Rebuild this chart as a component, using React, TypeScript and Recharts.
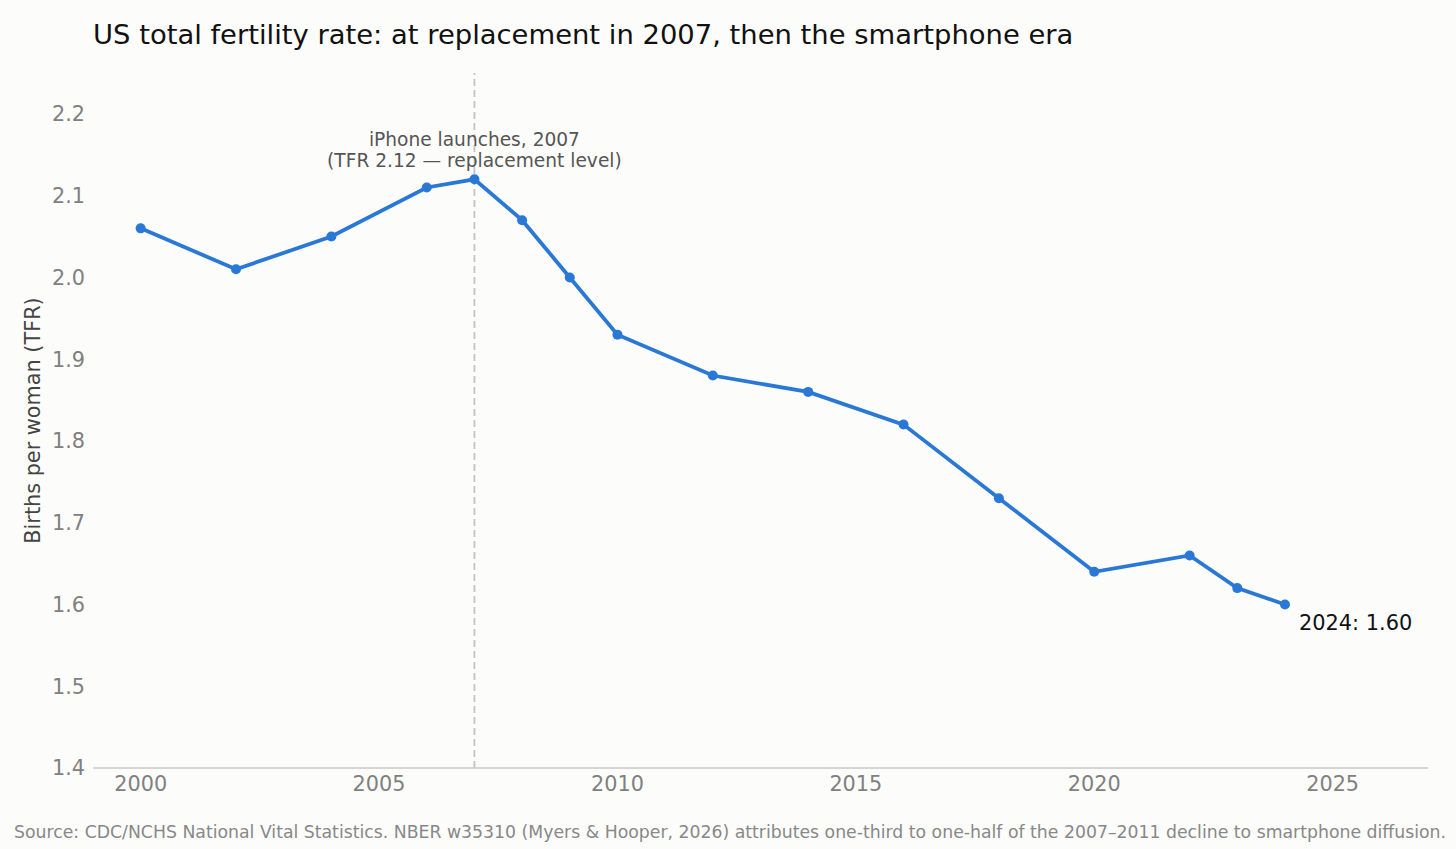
import React from "react";
import {
  LineChart,
  Line,
  XAxis,
  YAxis,
  ReferenceLine,
  ReferenceDot,
} from "recharts";

const years = [2000, 2002, 2004, 2006, 2007, 2008, 2009, 2010, 2012, 2014, 2016, 2018, 2020, 2022, 2023, 2024];
const tfr = [2.06, 2.01, 2.05, 2.11, 2.12, 2.07, 2.0, 1.93, 1.88, 1.86, 1.82, 1.73, 1.64, 1.66, 1.62, 1.6];
const xTicks = [2000, 2005, 2010, 2015, 2020, 2025];
const yTicks = [1.4, 1.5, 1.6, 1.7, 1.8, 1.9, 2.0, 2.1, 2.2];
const iphoneYear = 2007;
const iphoneTfr = 2.12;
const annotationLines = ["iPhone launches, 2007", "(TFR 2.12 \u2014 replacement level)"];
const title = "US total fertility rate: at replacement in 2007, then the smartphone era";
const yLabel = "Births per woman (TFR)";
const source =
  "Source: CDC/NCHS National Vital Statistics. NBER w35310 (Myers & Hooper, 2026) attributes one-third to one-half of the 2007\u20132011 decline to smartphone diffusion.";

const data = years.map((y, i) => ({ year: y, tfr: tfr[i] }));
const lastYear = years[years.length - 1];
const lastVal = tfr[tfr.length - 1];

const FONT = "'DejaVu Sans', sans-serif";
const BLUE = "#2a78d6";

const AnnotationLabel = (props: any) => {
  const vb = props.viewBox || {};
  const cx = vb.cx ?? (vb.x + (vb.width || 0) / 2);
  const cy = vb.cy ?? (vb.y + (vb.height || 0) / 2);
  return (
    <g>
      <text x={cx} y={cy - 33} textAnchor="middle" fontSize={18.6} fill="#555" fontFamily={FONT}>
        {annotationLines[0]}
      </text>
      <text x={cx} y={cy - 12} textAnchor="middle" fontSize={18.6} fill="#555" fontFamily={FONT}>
        {annotationLines[1]}
      </text>
    </g>
  );
};

const EndLabel = (props: any) => {
  const vb = props.viewBox || {};
  const cx = vb.cx ?? (vb.x + (vb.width || 0) / 2);
  const cy = vb.cy ?? (vb.y + (vb.height || 0) / 2);
  return (
    <text x={cx + 14} y={cy + 26} textAnchor="start" fontSize={20.9} fill="#111" fontFamily={FONT}>
      {`${lastYear}: ${lastVal.toFixed(2)}`}
    </text>
  );
};

export default function App() {
  return (
    <div
      style={{
        position: "absolute",
        left: 0,
        top: 0,
        width: 1456,
        height: 849,
        background: "#fcfcfa",
        fontFamily: FONT,
        overflow: "hidden",
      }}
    >
      <div
        style={{
          position: "absolute",
          left: 93,
          top: 19,
          fontSize: 27.4,
          color: "#111",
          whiteSpace: "nowrap",
        }}
      >
        {title}
      </div>
      <LineChart
        width={1456}
        height={849}
        data={data}
        margin={{ top: 73, right: 28, bottom: 51, left: 33 }}
        style={{ position: "absolute", left: 0, top: 0 }}
      >
        <XAxis
          dataKey="year"
          type="number"
          domain={[1999, 2027]}
          ticks={xTicks}
          allowDataOverflow
          axisLine={{ stroke: "#c8c8c4", strokeWidth: 1.5 }}
          tickLine={false}
          tick={{ fill: "#808080", fontSize: 20.8, fontFamily: FONT }}
          height={30}
        />
        <YAxis
          type="number"
          domain={[1.4, 2.25]}
          ticks={yTicks}
          allowDataOverflow
          axisLine={false}
          tickLine={false}
          width={60}
          tickFormatter={(v: number) => v.toFixed(1)}
          tick={{ fill: "#808080", fontSize: 20.8, fontFamily: FONT }}
          label={{
            value: yLabel,
            angle: -90,
            position: "insideLeft",
            dx: -5,
            style: { textAnchor: "middle", fill: "#444", fontSize: 20.8, fontFamily: FONT },
          }}
        />
        <ReferenceLine
          x={iphoneYear}
          stroke="#c4c4be"
          strokeWidth={1.8}
          strokeDasharray="7 4"
        />
        <Line
          dataKey="tfr"
          stroke={BLUE}
          strokeWidth={3.8}
          dot={{ r: 5, fill: BLUE, stroke: BLUE, strokeWidth: 0 }}
          activeDot={false}
          isAnimationActive={false}
        />
        <ReferenceDot
          x={iphoneYear}
          y={iphoneTfr}
          r={0}
          fill="none"
          stroke="none"
          label={<AnnotationLabel />}
        />
        <ReferenceDot
          x={lastYear}
          y={lastVal}
          r={0}
          fill="none"
          stroke="none"
          label={<EndLabel />}
        />
      </LineChart>
      <div
        style={{
          position: "absolute",
          left: 14,
          top: 822,
          fontSize: 17.3,
          color: "#888",
          whiteSpace: "nowrap",
        }}
      >
        {source}
      </div>
    </div>
  );
}
